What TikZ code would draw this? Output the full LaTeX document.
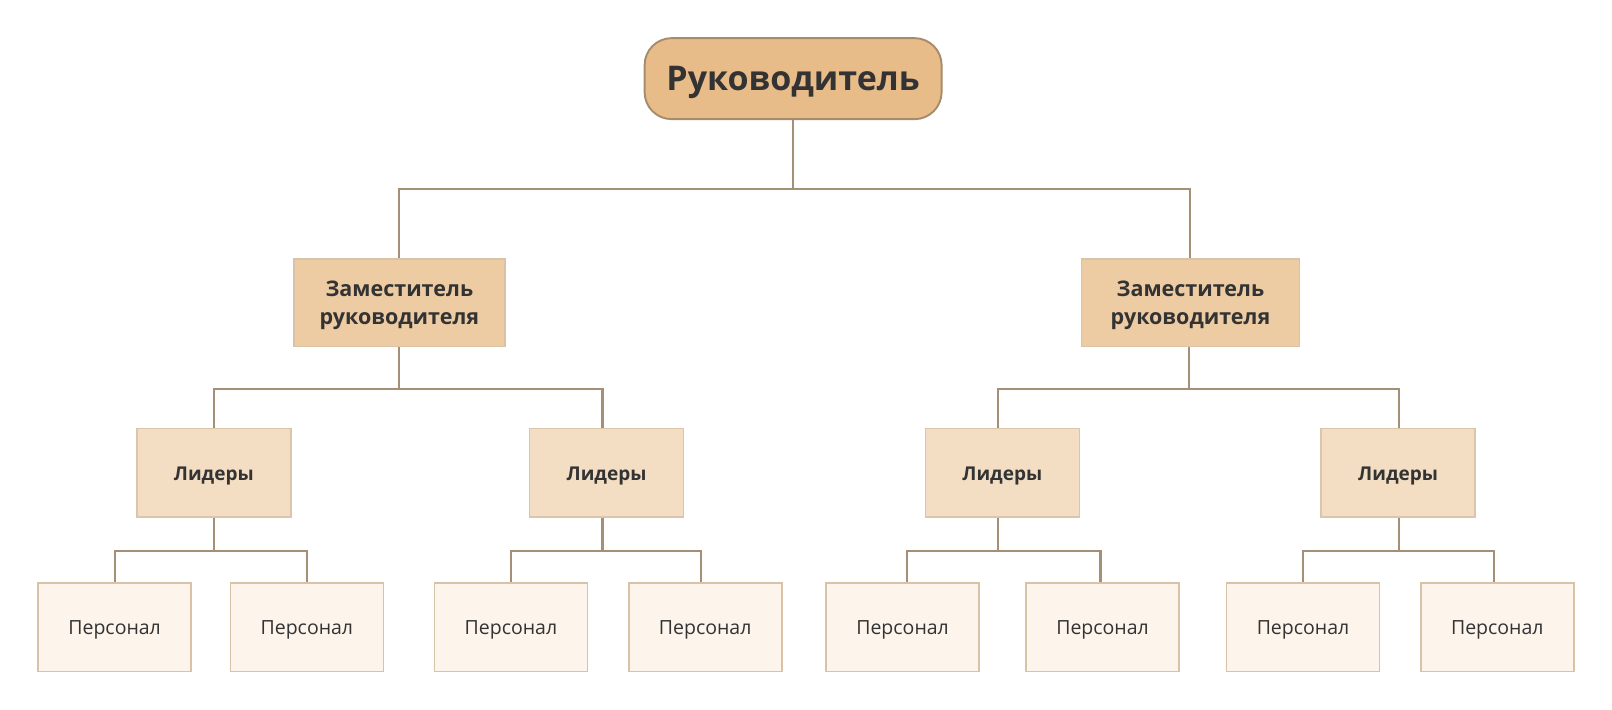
\documentclass[tikz,border=0pt]{standalone}
\usepackage{fontspec}
\setmainfont{Open Sans}
\definecolor{rootfill}{HTML}{E8BC89}
\definecolor{rootdraw}{HTML}{A68B6C}
\definecolor{depfill}{HTML}{EDCBA3}
\definecolor{depdraw}{HTML}{D9C2A5}
\definecolor{leadfill}{HTML}{F3DDC3}
\definecolor{leaddraw}{HTML}{DCC6AB}
\definecolor{persfill}{HTML}{FDF4EC}
\definecolor{persdraw}{HTML}{D8C3A8}
\definecolor{linec}{HTML}{A39077}
\definecolor{txt}{HTML}{333333}
\tikzset{
  rootbox/.style={draw=rootdraw, fill=rootfill, line width=1.9pt, rounded corners=27pt, minimum width=297pt, minimum height=81pt, text=txt, font=\fontsize{34}{40}\selectfont\bfseries, inner sep=0pt, text height=32.8pt, text depth=8.5pt},
  depbox/.style={draw=depdraw, fill=depfill, line width=1.6pt, minimum height=87.5pt, text=txt, font=\fontsize{21.5}{27.7}\selectfont\bfseries, align=center, inner sep=0pt, text height=43.1pt, text depth=0pt},
  leadbox/.style={draw=leaddraw, fill=leadfill, line width=1.6pt, minimum width=154pt, minimum height=88.5pt, text=txt, font=\fontsize{19}{24}\selectfont\bfseries, inner sep=0pt, text height=20.5pt, text depth=4.75pt},
  persbox/.style={draw=persdraw, fill=persfill, line width=1.6pt, minimum width=153pt, minimum height=88.5pt, text=txt, font=\fontsize{19.5}{24}\selectfont, inner sep=0pt, text height=18.8pt, text depth=4.9pt},
  conn/.style={draw=linec, line width=2.1pt}
}
\begin{document}
\begin{tikzpicture}[x=1.028pt,y=-1.028pt]
\useasboundingbox (0,0) rectangle (1568.1,689.7);
\fill[white] (0,0) rectangle (1568.1,689.7);
% nodes
\node[rootbox] (root) at (771.5,76.5) {Руководитель};
\node[depbox, minimum width=211pt] (d1) at (388.5,294.5) {Заместитель\\руководителя};
\node[depbox, minimum width=218pt] (d2) at (1158,294.5) {Заместитель\\руководителя};
\node[leadbox] (l1) at (208,460) {Лидеры};
\node[leadbox] (l2) at (590,460) {Лидеры};
\node[leadbox] (l3) at (975,460) {Лидеры};
\node[leadbox] (l4) at (1360,460) {Лидеры};
\node[persbox] (p1) at (111.5,610) {Персонал};
\node[persbox] (p2) at (298.5,610) {Персонал};
\node[persbox] (p3) at (497,610) {Персонал};
\node[persbox] (p4) at (686,610) {Персонал};
\node[persbox] (p5) at (878,610) {Персонал};
\node[persbox] (p6) at (1072.5,610) {Персонал};
\node[persbox] (p7) at (1267.5,610) {Персонал};
\node[persbox] (p8) at (1456.5,610) {Персонал};
% connectors
\draw[conn] (root.south) -- (root.south |- 0,184) coordinate (r0);
\draw[conn] (r0) -| (d1.north);
\draw[conn] (r0) -| (d2.north);
\draw[conn] (d1.south) -- (d1.south |- 0,378) coordinate (a1);
\draw[conn] (a1) -| (l1.north);
\draw[conn] (a1) -| ([xshift=-4pt]l2.north);
\draw[conn] ([xshift=-1pt]d2.south) -- ([xshift=-1pt]d2.south |- 0,378) coordinate (a2);
\draw[conn] (a2) -| ([xshift=-4pt]l3.north);
\draw[conn] (a2) -| ([xshift=1pt]l4.north);
\draw[conn] (l1.south) -- (l1.south |- 0,536) coordinate (b1);
\draw[conn] (b1) -| (p1.north);
\draw[conn] (b1) -| (p2.north);
\draw[conn] ([xshift=-4pt]l2.south) -- ([xshift=-4pt]l2.south |- 0,536) coordinate (b2);
\draw[conn] (b2) -| (p3.north);
\draw[conn] (b2) -| ([xshift=-4pt]p4.north);
\draw[conn] ([xshift=-4pt]l3.south) -- ([xshift=-4pt]l3.south |- 0,536) coordinate (b3);
\draw[conn] (b3) -| ([xshift=4pt]p5.north);
\draw[conn] (b3) -| ([xshift=-2pt]p6.north);
\draw[conn] ([xshift=1pt]l4.south) -- ([xshift=1pt]l4.south |- 0,536) coordinate (b4);
\draw[conn] (b4) -| (p7.north);
\draw[conn] (b4) -| ([xshift=-3pt]p8.north);
\end{tikzpicture}
\end{document}
